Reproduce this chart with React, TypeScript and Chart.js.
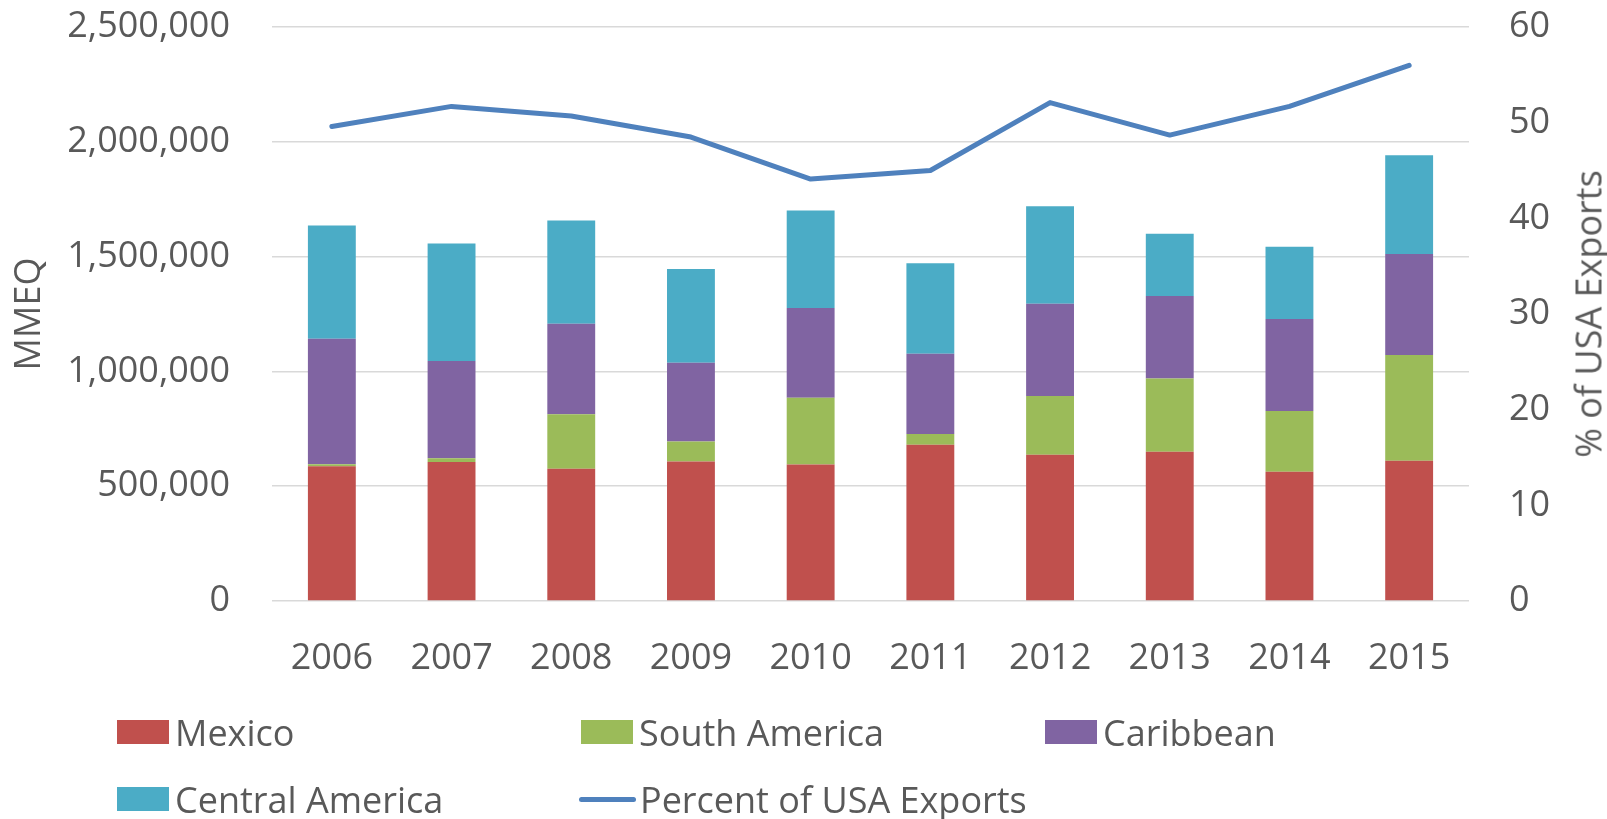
import React, { useEffect, useRef } from "react";
import { Chart, registerables } from "chart.js";

Chart.register(...registerables);

const years = ["2006", "2007", "2008", "2009", "2010", "2011", "2012", "2013", "2014", "2015"];
const mexico = [587000, 605000, 576000, 607500, 594000, 681000, 637500, 649600, 562600, 610400];
const southAmerica = [9000, 17000, 237000, 87000, 291000, 46500, 255000, 319000, 265400, 461200];
const caribbean = [546700, 423000, 394500, 343500, 391500, 349500, 402000, 359400, 400200, 439300];
const centralAmerica = [493000, 512000, 450000, 408000, 424500, 394500, 424500, 271500, 314600, 430700];
const percentUSA = [49.6, 51.7, 50.7, 48.5, 44.1, 45.0, 52.1, 48.7, 51.7, 56.0];

const leftTicks = [0, 500000, 1000000, 1500000, 2000000, 2500000];
const rightTicks = [0, 10, 20, 30, 40, 50, 60];

const COLORS = {
  mexico: "#C0504D",
  south: "#9BBB59",
  carib: "#8064A2",
  central: "#4BACC6",
  line: "#4F81BD",
};

const FONT = "'Open Sans', 'DejaVu Sans', sans-serif";
const TEXT = "#595959";

const legendItems = [
  { label: "Mexico", color: COLORS.mexico, kind: "box", x: 117, y: 732 },
  { label: "South America", color: COLORS.south, kind: "box", x: 581, y: 732 },
  { label: "Caribbean", color: COLORS.carib, kind: "box", x: 1045, y: 732 },
  { label: "Central America", color: COLORS.central, kind: "box", x: 117, y: 799 },
  { label: "Percent of USA Exports", color: COLORS.line, kind: "line", x: 579, y: 799 },
];

export default function App() {
  const ref = useRef<HTMLCanvasElement | null>(null);

  useEffect(() => {
    if (!ref.current) return;
    const chart = new Chart(ref.current, {
      type: "bar",
      data: {
        labels: years,
        datasets: [
          {
            type: "line",
            label: "Percent of USA Exports",
            data: percentUSA,
            yAxisID: "y1",
            borderColor: COLORS.line,
            backgroundColor: COLORS.line,
            borderWidth: 5,
            pointRadius: 0,
            tension: 0,
            borderJoinStyle: "round",
            borderCapStyle: "round",
            order: 0,
          } as any,
          { label: "Mexico", data: mexico, backgroundColor: COLORS.mexico, yAxisID: "y", order: 1 },
          { label: "South America", data: southAmerica, backgroundColor: COLORS.south, yAxisID: "y", order: 1 },
          { label: "Caribbean", data: caribbean, backgroundColor: COLORS.carib, yAxisID: "y", order: 1 },
          { label: "Central America", data: centralAmerica, backgroundColor: COLORS.central, yAxisID: "y", order: 1 },
        ],
      },
      options: {
        responsive: false,
        animation: false,
        devicePixelRatio: 1,
        layout: { padding: { top: 27, left: 0, right: 0, bottom: 0 } },
        datasets: { bar: { barPercentage: 0.4, categoryPercentage: 1 } } as any,
        plugins: { legend: { display: false }, tooltip: { enabled: false } },
        scales: {
          x: {
            stacked: true,
            grid: { display: false },
            border: { display: false },
            ticks: { color: TEXT, font: { family: FONT, size: 36 }, padding: 28, maxRotation: 0 },
            afterFit: (s: any) => {
              s.height = 218;
              s.paddingLeft = 0;
              s.paddingRight = 0;
            },
          },
          y: {
            stacked: true,
            position: "left",
            min: 0,
            max: 2500000,
            afterBuildTicks: (s: any) => {
              s.ticks = leftTicks.map((v) => ({ value: v }));
            },
            grid: { color: "#D9D9D9", lineWidth: 1.5, drawTicks: false },
            border: { display: false },
            ticks: {
              color: TEXT,
              font: { family: FONT, size: 36 },
              padding: 42,
              callback: (v: any) => Number(v).toLocaleString("en-US"),
            },
            title: {
              display: true,
              text: "MMEQ",
              color: TEXT,
              font: { family: FONT, size: 36 },
              padding: { top: 8, bottom: 0 },
            },
            afterFit: (s: any) => {
              s.width = 272;
              s.paddingTop = 0;
              s.paddingBottom = 0;
            },
          },
          y1: {
            position: "right",
            min: 0,
            max: 60,
            afterBuildTicks: (s: any) => {
              s.ticks = rightTicks.map((v) => ({ value: v }));
            },
            grid: { drawOnChartArea: false, drawTicks: false },
            border: { display: false },
            ticks: { color: TEXT, font: { family: FONT, size: 36 }, padding: 40 },
            afterFit: (s: any) => {
              s.width = 138;
              s.paddingTop = 0;
              s.paddingBottom = 0;
            },
          },
        },
      },
    });
    return () => chart.destroy();
  }, []);

  return (
    <div style={{ position: "fixed", left: 0, top: 0, width: 1607, height: 819, background: "#fff", overflow: "hidden" }}>
      <canvas ref={ref} width={1607} height={819} style={{ position: "absolute", left: 0, top: 0, width: 1607, height: 819 }} />
      <div
        style={{
          position: "absolute",
          left: 1588,
          top: 314,
          transform: "translate(-50%, -50%) rotate(-90deg)",
          whiteSpace: "nowrap",
          fontFamily: FONT,
          fontSize: 36,
          lineHeight: "43px",
          color: TEXT,
        }}
      >
        % of USA Exports
      </div>
      {legendItems.map((it) => (
        <div
          key={it.label}
          style={{
            position: "absolute",
            left: it.x,
            top: it.y - 25,
            height: 50,
            display: "flex",
            alignItems: "center",
            whiteSpace: "nowrap",
            fontFamily: FONT,
            fontSize: 36,
            color: TEXT,
          }}
        >
          {it.kind === "box" ? (
            <span style={{ display: "inline-block", width: 52, height: 24, background: it.color, marginRight: 6 }} />
          ) : (
            <span style={{ display: "inline-block", width: 57, height: 5, borderRadius: 3, background: it.color, marginRight: 4 }} />
          )}
          <span>{it.label}</span>
        </div>
      ))}
    </div>
  );
}
